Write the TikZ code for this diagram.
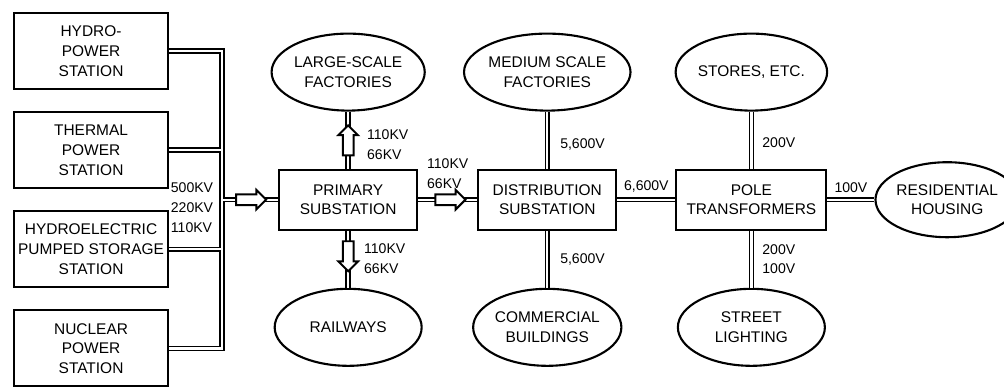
\documentclass[tikz,border=0pt]{standalone}
\usepackage{fontspec}
\setmainfont{Liberation Sans}
\usetikzlibrary{shapes.geometric, shapes.arrows, positioning, calc}

\begin{document}
\begin{tikzpicture}[
  node distance=5.25mm,
  station/.style={draw, line width=1.5pt, align=center, font=\fontsize{11}{14}\selectfont, minimum width=38.5mm, minimum height=19mm, inner sep=2pt},
  substation/.style={station, minimum width=34.5mm, minimum height=15mm},
  consumer/.style={ellipse, draw, line width=1.5pt, align=center, font=\fontsize{11}{14}\selectfont, minimum width=36.75mm, minimum height=19.25mm, inner sep=0pt},
  volt/.style={font=\fontsize{10}{14}\selectfont, align=left, inner sep=0.5pt},
  cable/.style={double, double distance=1.7pt, line width=1.1pt},
  flowarrow/.style={single arrow, draw, fill=white, line width=1.4pt, minimum height=7.5mm, inner sep=1.1mm, single arrow head extend=1.1mm, sloped, allow upside down}
]
\node[station] (hydro) {HYDRO-\\POWER\\STATION};
\node[station, below=of hydro] (thermal) {THERMAL\\POWER\\STATION};
\node[station, below=of thermal] (pumped) {HYDROELECTRIC\\PUMPED STORAGE\\STATION};
\node[station, below=of pumped] (nuclear) {NUCLEAR\\POWER\\STATION};
\useasboundingbox ($(hydro.north west)+(-3.25mm,3mm)$) rectangle ++(251mm,-95.25mm);

\coordinate[right=13.25mm of hydro.east] (bustop);
\coordinate (busbot) at (bustop |- nuclear.east);
\coordinate (midfeed) at ($(thermal.east)!.5!(pumped.east)$);
\node[substation, right=27.25mm of midfeed] (primary) {PRIMARY\\SUBSTATION};
\coordinate (busjoin) at (bustop |- primary);
\node[substation, right=14.75mm of primary] (distribution) {DISTRIBUTION\\SUBSTATION};
\node[substation, minimum width=37.5mm, right=14.5mm of distribution] (pole) {POLE\\TRANSFORMERS};
\node[consumer, minimum width=33.5mm, minimum height=18.75mm, right=11.75mm of pole] (housing) {RESIDENTIAL\\HOUSING};
\node[consumer, above=14.25mm of primary] (large) {LARGE-SCALE\\FACTORIES};
\node[consumer, below=14.25mm of primary] (railways) {RAILWAYS};
\node[consumer, above=14.25mm of distribution] (medium) {MEDIUM SCALE\\FACTORIES};
\node[consumer, below=14.25mm of distribution] (commercial) {COMMERCIAL\\BUILDINGS};
\node[consumer, above=14.25mm of pole] (stores) {STORES, ETC.};
\node[consumer, below=14.25mm of pole] (lighting) {STREET\\LIGHTING};

\draw[cable] (hydro.east) -- (bustop) -- (busbot) -- (nuclear.east)
  (thermal.east) -- (thermal.east -| bustop)
  (pumped.east) -- (pumped.east -| bustop)
  (busjoin) -- (primary.west);
\draw[cable] (primary) -- (large);
\draw[cable] (primary) -- (railways);
\draw[cable] (primary) -- (distribution);
\draw[cable] (distribution) -- (medium);
\draw[cable] (distribution) -- (commercial);
\draw[cable] (distribution) -- (pole);
\draw[cable] (pole) -- (stores);
\draw[cable] (pole) -- (lighting);
\draw[cable] (pole) -- (housing);

\path (busjoin) -- (primary.west) node[flowarrow, pos=.47] (feedarrow) {};
\path (primary) -- (large) node[flowarrow, pos=.45] (uparrow) {}
  node[volt, pos=.42, right=4.5mm] (upvolt) {110KV\\66KV};
\path (primary) -- (railways) node[flowarrow, pos=.4] (downarrow) {}
  node[volt, pos=.49, right=3.75mm] (downvolt) {110KV\\66KV};
\path (primary) -- (distribution) node[flowarrow, pos=.5] (rightarrow) {}
  node[volt, pos=.5, above=2.5mm] (rightvolt) {110KV\\66KV};
\node[volt, left=2mm of busjoin, yshift=-2mm] (busvolt) {500KV\\220KV\\110KV};
\path (distribution) -- (medium) node[volt, pos=.43, right=3mm] (mediumvolt) {5,600V};
\path (distribution) -- (commercial) node[volt, pos=.5, right=3mm] (commercialvolt) {5,600V};
\path (distribution) -- (pole) node[volt, pos=.5, above=1.5mm] (polevolt) {6,600V};
\path (pole) -- (stores) node[volt, pos=.45, right=2.5mm] (storesvolt) {200V};
\path (pole) -- (lighting) node[volt, pos=.5, right=2.5mm] (lightingvolt) {200V\\100V};
\path (pole) -- (housing) node[volt, pos=.5, above=1.5mm] (housingvolt) {100V};
\end{tikzpicture}
\end{document}
